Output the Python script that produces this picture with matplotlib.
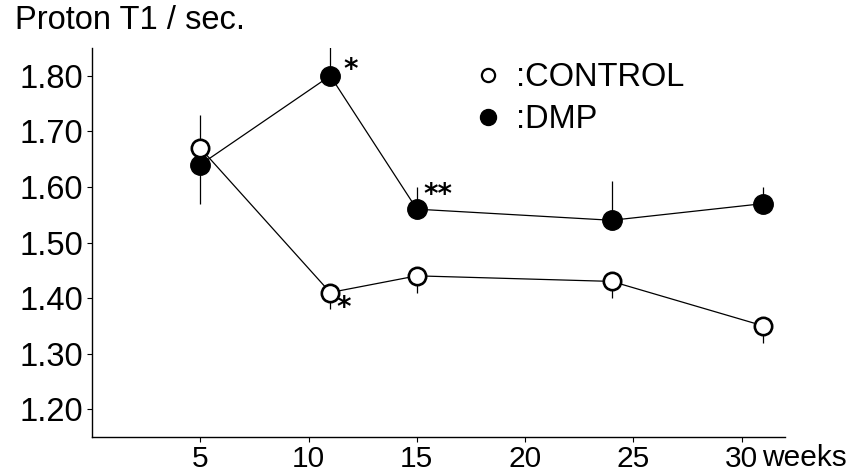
import matplotlib
matplotlib.use("Agg")
import matplotlib.pyplot as plt
from matplotlib.lines import Line2D

plt.rcParams["font.family"] = ["Liberation Sans", "DejaVu Sans"]

WEEKS = [5, 11, 15, 24, 31]
CONTROL = [1.67, 1.41, 1.44, 1.43, 1.35]
DMP = [1.64, 1.80, 1.56, 1.54, 1.57]
# one-sided error bars: (lower, upper)
CONTROL_ERR = ([0.0, 0.03, 0.03, 0.03, 0.03], [0.06, 0.0, 0.0, 0.0, 0.0])
DMP_ERR = ([0.07, 0.0, 0.0, 0.0, 0.0], [0.0, 0.10, 0.04, 0.07, 0.03])
X_TICKS = [5, 10, 15, 20, 25, 30]
Y_TICKS = [1.20, 1.30, 1.40, 1.50, 1.60, 1.70, 1.80]
STARS = [("DMP", 1, "*"), ("DMP", 2, "**"), ("CONTROL", 1, "*")]

fig = plt.figure(figsize=(8.65, 4.73), dpi=100)
ax = fig.add_axes([0.1064, 0.0761, 0.8011, 0.8224])

ax.errorbar(WEEKS, CONTROL, yerr=CONTROL_ERR, fmt="none", ecolor="black", elinewidth=0.9, capsize=0, zorder=1)
ax.errorbar(WEEKS, DMP, yerr=DMP_ERR, fmt="none", ecolor="black", elinewidth=0.9, capsize=0, zorder=1)
ax.plot(WEEKS, CONTROL, color="black", linewidth=0.9, marker="o", markersize=12.5,
        markerfacecolor="white", markeredgecolor="black", markeredgewidth=1.9, zorder=3)
ax.plot(WEEKS, DMP, color="black", linewidth=0.9, marker="o", markersize=14,
        markerfacecolor="black", markeredgecolor="black", zorder=2)

series = {"CONTROL": CONTROL, "DMP": DMP}
offsets = {("DMP", 1): (15, 4), ("DMP", 2): (15, 10), ("CONTROL", 1): (10, -11)}
for name, i, mark in STARS:
    ax.annotate(mark, (WEEKS[i], series[name][i]), xytext=offsets[(name, i)],
                textcoords="offset points", fontsize=20, fontweight="bold",
                family="DejaVu Sans", ha="center", va="center")

ax.set_xlim(0, 32)
ax.set_ylim(1.15, 1.85)
ax.set_xticks(X_TICKS)
ax.set_xticklabels([str(t) for t in X_TICKS])
ax.set_yticks(Y_TICKS)
ax.set_yticklabels([f"{t:.2f}" for t in Y_TICKS])
ax.tick_params(length=3.5, width=0.8, direction="out")
ax.tick_params(axis="x", labelsize=21.5, pad=2.5)
ax.tick_params(axis="y", labelsize=23.5, pad=3)
for side in ("top", "right"):
    ax.spines[side].set_visible(False)
for side in ("left", "bottom"):
    ax.spines[side].set_linewidth(1.0)

ax.annotate("weeks", (X_TICKS[-1], 0), xycoords=("data", "axes fraction"),
            xytext=(14.5, -5), textcoords="offset points", fontsize=21.5,
            ha="left", va="top")

fig.text(0.017, 0.957, "Proton T1 / sec.", fontsize=23.5, ha="left", va="center")

handles = [
    Line2D([], [], linestyle="none", marker="o", markersize=9.5, markerfacecolor="white",
           markeredgecolor="black", markeredgewidth=1.6),
    Line2D([], [], linestyle="none", marker="o", markersize=11.5, markerfacecolor="black",
           markeredgecolor="black"),
]
ax.legend(handles, [":CONTROL", ":DMP"], loc="upper left", bbox_to_anchor=(0.553, 0.963),
          frameon=False, fontsize=23.5, handlelength=0.8, handletextpad=0.45,
          labelspacing=0.33, borderpad=0, borderaxespad=0)

fig.savefig("out.png", dpi=100)
